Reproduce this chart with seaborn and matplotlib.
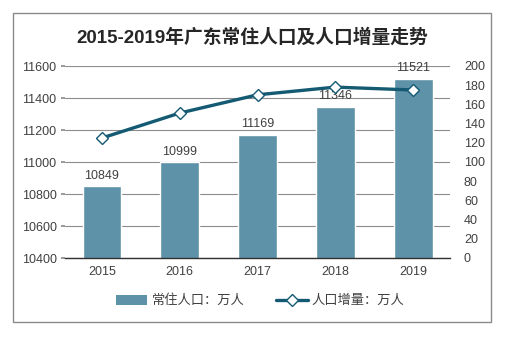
import matplotlib
matplotlib.use("Agg")
import matplotlib.pyplot as plt
import seaborn as sns
import pandas as pd
from matplotlib.lines import Line2D
from matplotlib.patches import Patch, Rectangle

years = ["2015", "2016", "2017", "2018", "2019"]
population = [10849, 10999, 11169, 11346, 11521]
increment = [125, 151, 170, 178, 175]
left_ticks = [10400, 10600, 10800, 11000, 11200, 11400, 11600]
right_ticks = list(range(0, 201, 20))

sns.set_theme(style="white")
plt.rcParams['font.family'] = ['Liberation Sans', 'Noto Sans CJK SC', 'DejaVu Sans']

bar_color = "#5E92A9"
line_color = "#135A72"
text_color = "#404040"
grid_color = "#8C8C8C"

df = pd.DataFrame({"year": years, "pop": population, "inc": increment})

fig = plt.figure(figsize=(5.12, 3.37), dpi=100)
fig.patches.append(Rectangle((13/512, 1-322/337), (491-13)/512, (322-13)/337,
                             transform=fig.transFigure, fill=False,
                             edgecolor="#8A8A8A", linewidth=1.0))
ax = fig.add_axes([65/512, 1-258/337, (450-65)/512, (258-66)/337])

sns.barplot(data=df, x="year", y="pop", color=bar_color, width=0.5,
            saturation=1, ax=ax, zorder=2)
ax.set_ylim(10400, 11600)
ax.set_yticks(left_ticks)
ax.yaxis.grid(True, color=grid_color, linewidth=0.8, zorder=0)
ax.set_axisbelow(True)
for s in ["left", "right", "top"]:
    ax.spines[s].set_visible(False)
ax.spines["bottom"].set_color("#303030")
ax.spines["bottom"].set_linewidth(1.0)
ax.tick_params(axis="y", length=3, color=grid_color, labelsize=9,
               labelcolor=text_color, pad=3, left=True)
ax.tick_params(axis="x", length=0, labelsize=9, labelcolor=text_color, pad=6)
ax.set_xlabel("")
ax.set_ylabel("")
for i, v in enumerate(population):
    ax.text(i, v + 28, str(v), ha="center", va="bottom", fontsize=9,
            color=text_color, clip_on=False)

ax2 = ax.twinx()
sns.lineplot(data=df, x="year", y="inc", ax=ax2, color=line_color,
             linewidth=2.4, marker="D", markersize=6.5,
             markerfacecolor="white", markeredgecolor=line_color,
             markeredgewidth=1.0, zorder=5)
ax2.set_ylim(0, 200)
ax2.set_yticks(right_ticks)
for s in ["left", "right", "top", "bottom"]:
    ax2.spines[s].set_visible(False)
ax2.tick_params(axis="y", length=0, labelsize=9, labelcolor=text_color, pad=10)
ax2.set_ylabel("")
ax2.grid(False)

fig.text(252/512, 1-37/337, "2015-2019年广东常住人口及人口增量走势",
         ha="center", va="center", fontsize=13.5, fontweight="bold",
         color="#262626")

handles = [Patch(facecolor=bar_color, edgecolor="none"),
           Line2D([0], [0], color=line_color, linewidth=2.4, marker="D",
                  markersize=6, markerfacecolor="white",
                  markeredgecolor=line_color)]
fig.legend(handles, ["常住人口：万人", "人口增量：万人"], loc="center",
           bbox_to_anchor=(260/512, 1-301/337), ncol=2, frameon=False,
           fontsize=9.5, handlelength=2.4, handleheight=0.8, columnspacing=2.4,
           handletextpad=0.3, labelcolor=text_color)

fig.savefig("out.png", dpi=100)
